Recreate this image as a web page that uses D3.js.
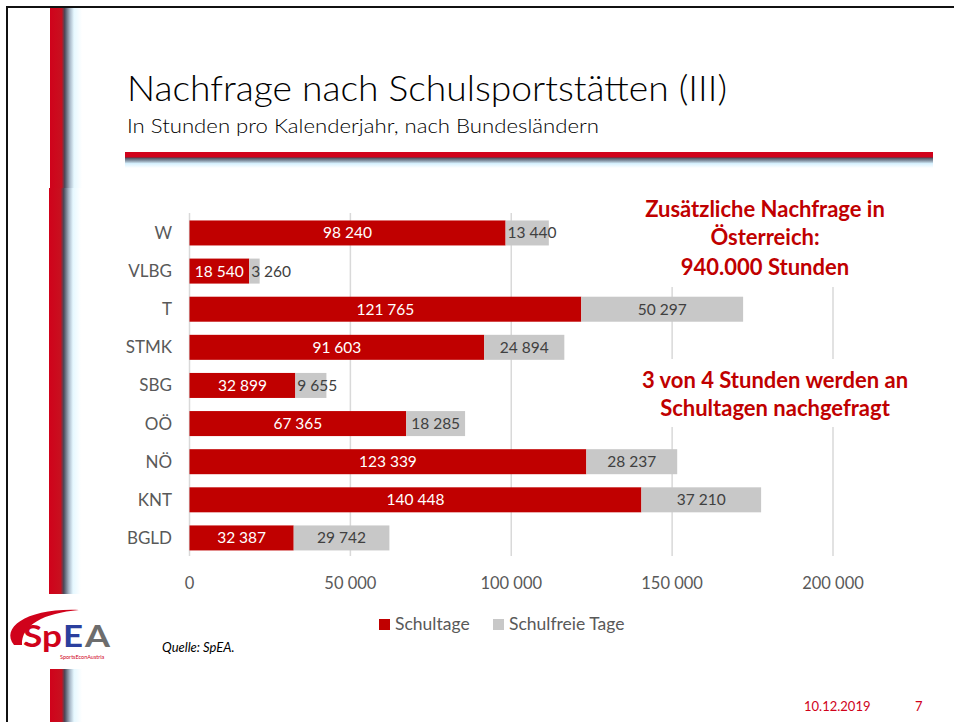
<!DOCTYPE html>
<html><head><meta charset="utf-8">
<script src="https://cdn.jsdelivr.net/npm/d3@7"></script>
<style>html,body{margin:0;padding:0;background:#fff;}svg{display:block;}</style>
</head><body>
<svg id="c" width="954" height="722"></svg>
<script>
const categories = ["W","VLBG","T","STMK","SBG","OÖ","NÖ","KNT","BGLD"];
const schultage = [98240,18540,121765,91603,32899,67365,123339,140448,32387];
const schulfrei = [13440,3260,50297,24894,9655,18285,28237,37210,29742];
const seriesNames = ["Schultage","Schulfreie Tage"];
const xTicks = [0,50000,100000,150000,200000];

const RED = "#c00000", GREY = "#c8c8c8", TXT = "#595959";
const FONT = "Lato, 'Open Sans', sans-serif";
const fmt = v => d3.format(",")(v).replace(/,/g, "\u00a0");

const svg = d3.select("#c");
const defs = svg.append("defs");

const vg = defs.append("linearGradient").attr("id","vstripe").attr("x1","0").attr("x2","1").attr("y1","0").attr("y2","0");
[[0,"#d0021b"],[0.36,"#c8101f"],[0.46,"#4a4a5a"],[0.62,"#a8b8c8"],[0.75,"#e6f8ff"],[1,"#ffffff"]].forEach(s=>vg.append("stop").attr("offset",s[0]).attr("stop-color",s[1]));
const hg = defs.append("linearGradient").attr("id","hshadow").attr("x1","0").attr("x2","0").attr("y1","0").attr("y2","1");
[[0,"#3a3a4a"],[0.35,"#8a9aaa"],[0.6,"#d8f2ff"],[1,"#ffffff"]].forEach(s=>hg.append("stop").attr("offset",s[0]).attr("stop-color",s[1]));

// frame
svg.append("rect").attr("x",6).attr("y",6).attr("width",948).attr("height",2).attr("fill","#111");
svg.append("rect").attr("x",6).attr("y",6).attr("width",2).attr("height",716).attr("fill","#111");

// left stripes
[[50,8,180],[49,188,406],[50,669,53]].forEach(([sx,sy,h])=>{
  svg.append("rect").attr("x",sx).attr("y",sy).attr("width",32).attr("height",h).attr("fill","url(#vstripe)");
});

// title
svg.append("text").attr("x",127).attr("y",101).attr("font-family",FONT).attr("font-weight",300)
  .attr("font-size",35).attr("fill","#000").attr("textLength",600).attr("lengthAdjust","spacingAndGlyphs")
  .text("Nachfrage nach Schulsportstätten (III)");
svg.append("text").attr("x",127).attr("y",133).attr("font-family",FONT).attr("font-weight",300).attr("font-size",20.5).attr("fill","#000")
  .attr("textLength",472).attr("lengthAdjust","spacingAndGlyphs")
  .text("In Stunden pro Kalenderjahr, nach Bundesländern");
svg.append("rect").attr("x",125).attr("y",157).attr("width",808).attr("height",11).attr("fill","url(#hshadow)");
svg.append("rect").attr("x",125).attr("y",152).attr("width",808).attr("height",5.5).attr("fill","#d0021b");

// scales
const x = d3.scaleLinear().domain([0,200000]).range([189.5,833]);
const y = d3.scaleBand().domain(categories).range([213.9,557]).paddingInner(0.344).paddingOuter(0.172);
const bh = y.bandwidth();

const g = svg.append("g");
g.selectAll("line.grid").data(xTicks).join("line").attr("class","grid")
  .attr("x1",d=>x(d)).attr("x2",d=>x(d)).attr("y1",213).attr("y2",556)
  .attr("stroke","#d9d9d9").attr("stroke-width",1.5);

g.selectAll("text.tick").data(xTicks).join("text").attr("class","tick")
  .attr("x",d=>x(d)).attr("y",589).attr("text-anchor","middle")
  .attr("font-family",FONT).attr("font-size",16.5).attr("fill",TXT).text(d=>fmt(d));

g.selectAll("text.cat").data(categories).join("text").attr("class","cat")
  .attr("x",172).attr("y",d=>y(d)+bh/2+6).attr("text-anchor","end")
  .attr("font-family",FONT).attr("font-size",17).attr("fill",TXT).text(d=>d);

const rows = categories.map((c,i)=>({c, a:schultage[i], b:schulfrei[i]}));
g.selectAll("rect.s1").data(rows).join("rect").attr("class","s1")
  .attr("x",x(0)).attr("y",d=>y(d.c)).attr("width",d=>x(d.a)-x(0)).attr("height",bh).attr("fill",RED);
g.selectAll("rect.s2").data(rows).join("rect").attr("class","s2")
  .attr("x",d=>x(d.a)).attr("y",d=>y(d.c)).attr("width",d=>x(d.a+d.b)-x(d.a)).attr("height",bh).attr("fill",GREY);

g.selectAll("text.l1").data(rows).join("text").attr("class","l1")
  .attr("x",d=>(x(0)+x(d.a))/2).attr("y",d=>y(d.c)+bh/2+5.5).attr("text-anchor","middle")
  .attr("font-family",FONT).attr("font-size",15.5).attr("fill","#fff").text(d=>fmt(d.a));
g.selectAll("text.l2").data(rows).join("text").attr("class","l2")
  .attr("y",d=>y(d.c)+bh/2+5.5).attr("text-anchor","start")
  .attr("font-family",FONT).attr("font-size",15.5).attr("fill","#404040").text(d=>fmt(d.b))
  .each(function(d){
    const w = this.getComputedTextLength();
    const cx = (x(d.a)+x(d.a+d.b))/2;
    d3.select(this).attr("x", Math.max(cx - w/2, x(d.a)+2));
  });

// annotation boxes
svg.append("rect").attr("x",630).attr("y",190).attr("width",280).attr("height",97).attr("fill","#fff");
svg.append("rect").attr("x",628).attr("y",359).attr("width",300).attr("height",68).attr("fill","#fff");
const ann = [
  ["Zusätzliche Nachfrage in",765,217],
  ["Österreich:",765,245],
  ["940.000 Stunden",765,275],
  ["3 von 4 Stunden werden an",775,388],
  ["Schultagen nachgefragt",775,416]
];
ann.forEach(([t,ax,ay])=>{
  svg.append("text").attr("x",ax).attr("y",ay).attr("text-anchor","middle")
    .attr("font-family",FONT).attr("font-weight",700).attr("font-size",22).attr("fill",RED).text(t);
});

// legend
const lg = svg.append("g");
const legX = [379,493];
seriesNames.forEach((n,i)=>{
  lg.append("rect").attr("x",legX[i]).attr("y",619).attr("width",11).attr("height",11).attr("fill",i?GREY:RED);
  lg.append("text").attr("x",legX[i]+16).attr("y",630).attr("font-family",FONT).attr("font-size",17.5).attr("fill",TXT).text(n);
});

// source
svg.append("text").attr("x",162).attr("y",652).attr("font-family",FONT).attr("font-style","italic")
  .attr("font-size",13).attr("fill","#000").text("Quelle: SpEA.");

// footer
svg.append("text").attr("x",804).attr("y",711).attr("font-family",FONT).attr("font-size",13).attr("fill","#d0021b").text("10.12.2019");
svg.append("text").attr("x",915).attr("y",711).attr("font-family",FONT).attr("font-size",13).attr("fill","#d0021b").text("7");

// logo
const logo = svg.append("g");
logo.append("path").attr("d","M14,645 C0,627 28,608 79,610 C44,613 21,625 22,645 Z").attr("fill","#d0021b");
logo.append("text").attr("x",23).attr("y",647).attr("font-family",FONT).attr("font-weight",700).attr("font-size",31).attr("fill","#d0021b")
  .attr("textLength",39).attr("lengthAdjust","spacingAndGlyphs").text("Sp");
logo.append("text").attr("x",63).attr("y",647).attr("font-family",FONT).attr("font-weight",700).attr("font-size",31).attr("fill","#2b3f9e")
  .attr("textLength",20).attr("lengthAdjust","spacingAndGlyphs").text("E");
logo.append("text").attr("x",85).attr("y",647).attr("font-family",FONT).attr("font-weight",700).attr("font-size",31).attr("fill","#6d6d6d")
  .attr("textLength",25).attr("lengthAdjust","spacingAndGlyphs").text("A");
logo.append("text").attr("x",60).attr("y",659).attr("font-family",FONT).attr("font-size",5.5).attr("fill","#d0021b").text("SportsEconAustria");
</script>
</body></html>
